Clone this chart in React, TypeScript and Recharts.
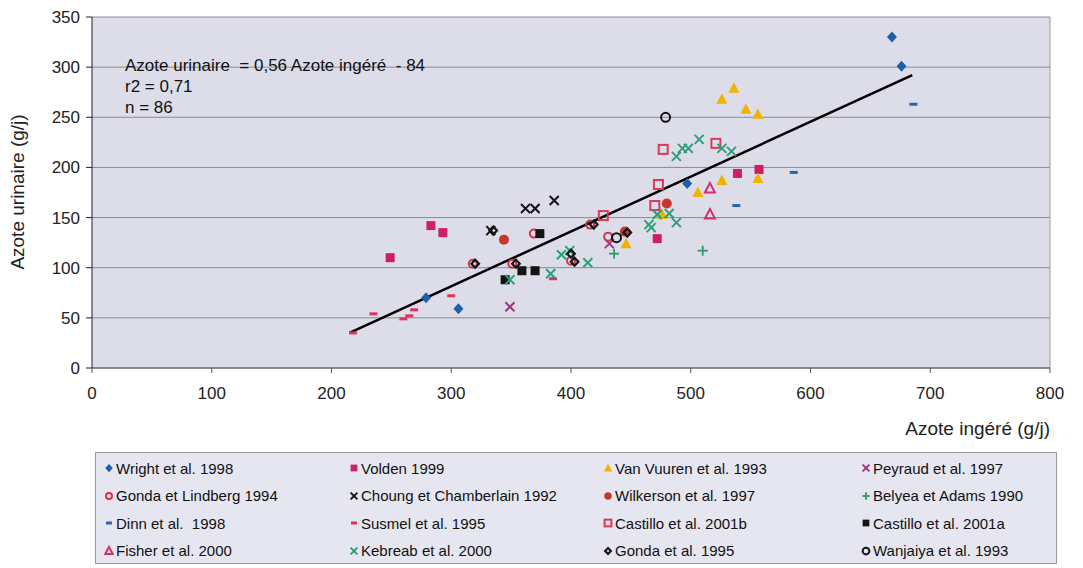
import React from "react";
import { CartesianGrid, ReferenceLine, Scatter, ScatterChart, XAxis, YAxis } from "recharts";

// values: [azote ingéré, azote urinaire] in g/j
const wright = [[279, 70], [306, 59], [497, 184], [668, 330], [676, 301]];
const volden = [[249, 110], [283, 142], [293, 135], [472, 129], [539, 194], [557, 198]];
const vanVuuren = [[446, 124], [476, 153], [506, 175], [526, 187], [526, 268], [536, 279], [546, 258], [556, 253], [556, 189]];
const peyraud = [[349, 61], [432, 124]];
const gondaLindberg = [[318, 104], [351, 104], [369, 134], [400, 107], [416, 143], [431, 131]];
const choung = [[333, 137], [362, 159], [370, 159], [386, 167]];
const wilkerson = [[344, 128], [445, 136], [480, 164]];
const belyea = [[436, 114], [510, 117]];
const dinn = [[538, 162], [586, 195], [686, 263]];
const susmel = [[218, 35], [235, 54], [260, 49], [265, 52], [269, 58], [300, 72], [385, 89]];
const castilloB = [[427, 152], [470, 162], [473, 183], [477, 218], [521, 224]];
const castilloA = [[345, 88], [359, 97], [370, 97], [374, 134]];
const fisher = [[516, 179], [516, 153]];
const kebreab = [[349, 88], [383, 94], [392, 113], [399, 117], [414, 105], [465, 143], [467, 140], [472, 153], [482, 154], [488, 145], [488, 211], [493, 219], [498, 219], [507, 228], [526, 219], [534, 216]];
const gonda1995 = [[320, 104], [335, 137], [354, 104], [400, 114], [403, 106], [419, 143], [447, 135]];
const wanjaiya = [[479, 250], [438, 130]];

const regLine = [[215, 35], [685, 292]];

const xTicks = [0, 100, 200, 300, 400, 500, 600, 700, 800];
const yTicks = [0, 50, 100, 150, 200, 250, 300, 350];

type Kind = "diamond" | "square" | "triangle" | "x" | "ocircle" | "circle" | "plus" | "dash" | "osquare" | "otriangle" | "odiamond" | "ring";

const series: { name: string; data: number[][]; kind: Kind; color: string }[] = [
  { name: "Wright et al. 1998", data: wright, kind: "diamond", color: "#1f5ea8" },
  { name: "Volden 1999", data: volden, kind: "square", color: "#cc1f68" },
  { name: "Van Vuuren et al. 1993", data: vanVuuren, kind: "triangle", color: "#f0b400" },
  { name: "Peyraud et al. 1997", data: peyraud, kind: "x", color: "#a3337f" },
  { name: "Gonda et Lindberg 1994", data: gondaLindberg, kind: "ocircle", color: "#d2334a" },
  { name: "Choung et Chamberlain 1992", data: choung, kind: "x", color: "#141414" },
  { name: "Wilkerson et al. 1997", data: wilkerson, kind: "circle", color: "#c8362e" },
  { name: "Belyea et Adams 1990", data: belyea, kind: "plus", color: "#2e9a6a" },
  { name: "Dinn et al.  1998", data: dinn, kind: "dash", color: "#2a66b0" },
  { name: "Susmel et al. 1995", data: susmel, kind: "dash", color: "#e0305c" },
  { name: "Castillo et al. 2001b", data: castilloB, kind: "osquare", color: "#d83a5a" },
  { name: "Castillo et al. 2001a", data: castilloA, kind: "square", color: "#141414" },
  { name: "Fisher et al. 2000", data: fisher, kind: "otriangle", color: "#d2306a" },
  { name: "Kebreab et al. 2000", data: kebreab, kind: "x", color: "#2aa078" },
  { name: "Gonda et al. 1995", data: gonda1995, kind: "odiamond", color: "#141414" },
  { name: "Wanjaiya et al. 1993", data: wanjaiya, kind: "ring", color: "#141414" },
];

function Marker({ kind, color, cx, cy, s = 1 }: { kind: Kind; color: string; cx: number; cy: number; s?: number }) {
  switch (kind) {
    case "diamond":
      return <polygon points={`${cx},${cy - 5.5 * s} ${cx + 5 * s},${cy} ${cx},${cy + 5.5 * s} ${cx - 5 * s},${cy}`} fill={color} />;
    case "square":
      return <rect x={cx - 4.5 * s} y={cy - 4.5 * s} width={9 * s} height={9 * s} fill={color} />;
    case "triangle":
      return <polygon points={`${cx},${cy - 6 * s} ${cx + 5.5 * s},${cy + 4.5 * s} ${cx - 5.5 * s},${cy + 4.5 * s}`} fill={color} />;
    case "x":
      return (
        <g stroke={color} strokeWidth={2}>
          <line x1={cx - 4.5 * s} y1={cy - 4.5 * s} x2={cx + 4.5 * s} y2={cy + 4.5 * s} />
          <line x1={cx - 4.5 * s} y1={cy + 4.5 * s} x2={cx + 4.5 * s} y2={cy - 4.5 * s} />
        </g>
      );
    case "ocircle":
      return <circle cx={cx} cy={cy} r={4 * s} fill="none" stroke={color} strokeWidth={2} />;
    case "circle":
      return <circle cx={cx} cy={cy} r={5 * s} fill={color} />;
    case "plus":
      return (
        <g stroke={color} strokeWidth={1.8}>
          <line x1={cx - 5 * s} y1={cy} x2={cx + 5 * s} y2={cy} />
          <line x1={cx} y1={cy - 5 * s} x2={cx} y2={cy + 5 * s} />
        </g>
      );
    case "dash":
      return <rect x={cx - 4 * s} y={cy - 1.5} width={8 * s} height={3} fill={color} />;
    case "osquare":
      return <rect x={cx - 4.5 * s} y={cy - 4.5 * s} width={9 * s} height={9 * s} fill="none" stroke={color} strokeWidth={2} />;
    case "otriangle":
      return <polygon points={`${cx},${cy - 5.5 * s} ${cx + 5 * s},${cy + 4 * s} ${cx - 5 * s},${cy + 4 * s}`} fill="none" stroke={color} strokeWidth={2} />;
    case "odiamond":
      return <polygon points={`${cx},${cy - 4 * s} ${cx + 3.8 * s},${cy} ${cx},${cy + 4 * s} ${cx - 3.8 * s},${cy}`} fill="none" stroke={color} strokeWidth={2.2} />;
    case "ring":
      return <circle cx={cx} cy={cy} r={4.5 * s} fill="none" stroke={color} strokeWidth={2} />;
  }
  return null;
}

const font = "'Liberation Sans', Arial, sans-serif";

export default function App() {
  return (
    <div style={{ position: "absolute", left: 0, top: 0, width: 1083, height: 568, background: "#fff", fontFamily: font }}>
      <ScatterChart width={1083} height={568} margin={{ top: 17, right: 33, left: 0, bottom: 170 }}>
        <CartesianGrid vertical={false} stroke="#8c8c8c" fill="#dcdde9" horizontalValues={yTicks} />
        <XAxis
          type="number"
          dataKey="x"
          domain={[0, 800]}
          ticks={xTicks}
          height={30}
          tickSize={5}
          tickMargin={14}
          stroke="#555"
          tick={{ fontSize: 17, fill: "#222", fontFamily: font }}
        />
        <YAxis
          type="number"
          dataKey="y"
          domain={[0, 350]}
          ticks={yTicks}
          width={92}
          tickSize={6}
          tickMargin={6}
          stroke="#222"
          tick={{ fontSize: 17, fill: "#222", fontFamily: font }}
        />
        <ReferenceLine x={800} stroke="#9a9a9a" />
        <Scatter
          data={regLine.map(([x, y]) => ({ x, y }))}
          line={{ stroke: "#000", strokeWidth: 2.5 }}
          shape={() => <g />}
          isAnimationActive={false}
        />
        {series.map((s) => (
          <Scatter
            key={s.name}
            name={s.name}
            data={s.data.map(([x, y]) => ({ x, y }))}
            isAnimationActive={false}
            shape={(p: any) => <Marker kind={s.kind} color={s.color} cx={p.cx} cy={p.cy} />}
          />
        ))}
      </ScatterChart>

      <div style={{ position: "absolute", left: 125, top: 55, fontSize: 17, lineHeight: "21px", color: "#111" }}>
        <div style={{ whiteSpace: "pre" }}>Azote urinaire  = 0,56 Azote ingéré  - 84</div>
        <div>r2 = 0,71</div>
        <div>n = 86</div>
      </div>

      <div
        style={{
          position: "absolute",
          left: 18,
          top: 192,
          transform: "translate(-50%, -50%) rotate(-90deg)",
          fontSize: 19,
          color: "#222",
          whiteSpace: "nowrap",
        }}
      >
        Azote urinaire (g/j)
      </div>
      <div style={{ position: "absolute", right: 33, top: 418, fontSize: 19, color: "#222" }}>Azote ingéré (g/j)</div>

      <div
        style={{
          position: "absolute",
          left: 95,
          top: 452,
          width: 962,
          height: 112,
          boxSizing: "border-box",
          border: "1px solid #9a9a9a",
          background: "#e6e6f1",
        }}
      >
        {series.map((s, i) => {
          const col = i % 4;
          const row = Math.floor(i / 4);
          const colX = [8, 253, 507, 765][col];
          return (
            <div
              key={s.name}
              style={{ position: "absolute", left: colX, top: 5 + row * 27.5, height: 20, display: "flex", alignItems: "center", fontSize: 15, color: "#111", whiteSpace: "pre" }}
            >
              <svg width={10} height={12} style={{ marginRight: 2 }}>
                <Marker kind={s.kind} color={s.color} cx={5} cy={6} s={0.75} />
              </svg>
              {s.name}
            </div>
          );
        })}
      </div>
    </div>
  );
}
